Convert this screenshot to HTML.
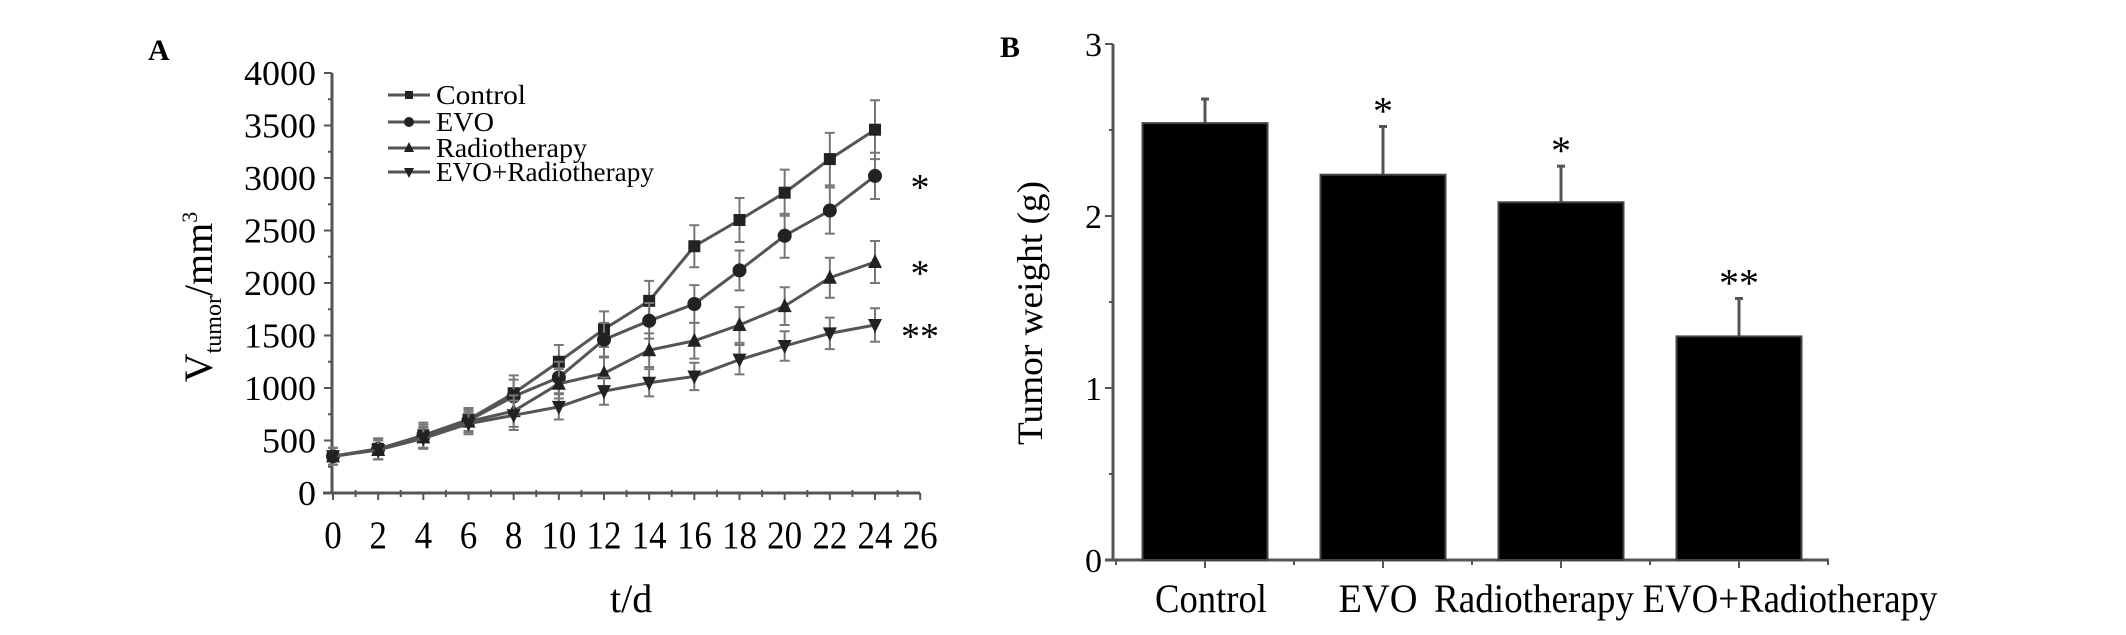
<!DOCTYPE html>
<html><head><meta charset="utf-8"><style>
html,body{margin:0;padding:0;background:#fff;}
svg{display:block;font-family:"Liberation Serif",serif;}
</style></head><body>
<svg id="fig" width="2126" height="635" viewBox="0 0 2126 635">
<g id="chartA"></g>
<g id="chartB"></g>
</svg>
<script>
// ---------- Chart A data ----------
const daysA = [0,2,4,6,8,10,12,14,16,18,20,22,24];
const seriesNames = ["Control","EVO","Radiotherapy","EVO+Radiotherapy"];
const controlVals = [350,420,550,700,950,1250,1560,1830,2350,2600,2860,3180,3460];
const evoVals = [350,420,540,690,920,1100,1460,1640,1800,2120,2450,2690,3020];
const radioVals = [350,410,530,680,780,1040,1140,1360,1450,1600,1780,2050,2200];
const comboVals = [350,410,520,660,740,820,970,1050,1110,1270,1400,1520,1600];
const controlErr = [80,100,120,110,170,160,170,190,200,210,220,250,280];
const evoErr = [80,100,110,110,160,150,160,170,180,190,210,220,220];
const radioErr = [80,90,100,100,150,140,150,160,170,170,180,190,200];
const comboErr = [80,90,100,100,140,120,130,130,130,140,140,150,160];
const xTicksA = [0,2,4,6,8,10,12,14,16,18,20,22,24,26];
const yTicksA = [0,500,1000,1500,2000,2500,3000,3500,4000];
const sigA = ["*","*","**"];
const sigValsA = [3020,2200,1600];

// ---------- Chart B data ----------
const groupsB = ["Control","EVO","Radiotherapy","EVO+Radiotherapy"];
const weightVals = [2.54,2.24,2.08,1.30];
const weightErr = [0.14,0.28,0.21,0.22];
const sigB = ["","*","*","**"];
const yTicksB = [0,1,2,3];

const NS = "http://www.w3.org/2000/svg";
function mk(parent, tag, attrs, text){
  const e = document.createElementNS(NS, tag);
  for (const k in attrs) e.setAttribute(k, attrs[k]);
  if (text !== undefined) e.textContent = text;
  parent.appendChild(e);
  return e;
}

// ================= Chart A =================
const A = document.getElementById('chartA');
const ax0 = 333, axPer = (875-333)/24, ay0 = 493, ayTop = 73;
const xA = d => ax0 + d*axPer;
const yA = v => ay0 - v*(ay0-ayTop)/4000;
const axisCol = "#555";

let t = mk(A,'text',{x:148,y:60,'font-size':30,'font-weight':'bold'},'A');



let l = mk(A,'line',{x1:xA(0)-1,y1:ay0,x2:xA(0)-1,y2:yA(4000),stroke:axisCol,'stroke-width':3});


l = mk(A,'line',{x1:xA(0)-10,y1:ay0,x2:xA(26),y2:ay0,stroke:axisCol,'stroke-width':3});


for (let d=0; d<=26; d++){
  const major = d%2===0;
  const tk = mk(A,'line',{x1:xA(d),y1:ay0-(major?0:3),x2:xA(d),y2:ay0+(major?7:4),stroke:axisCol,'stroke-width':2});
  
  
}
for (let v=0; v<=4000; v+=250){
  const major = v%500===0;
  const tk = mk(A,'line',{x1:xA(0)-1-(major?8:4),y1:yA(v),x2:xA(0)-1,y2:yA(v),stroke:axisCol,'stroke-width':2});
  
  
}
xTicksA.forEach(d=>{
  const s = String(d);
  const e = mk(A,'text',{x:xA(d),y:548,'font-size':39,'text-anchor':'middle',textLength:s.length*17.5,lengthAdjust:'spacingAndGlyphs'},s);
  
  
});
yTicksA.forEach(v=>{
  const s = String(v);
  const e = mk(A,'text',{x:316,y:yA(v)+12,'font-size':35,'text-anchor':'end',textLength:s.length*18,lengthAdjust:'spacingAndGlyphs'},s);
  
  
});
t = mk(A,'text',{x:xA(13.2),y:612,'font-size':40,'text-anchor':'middle'},'t/d');


t = mk(A,'text',{transform:'translate(212,297) rotate(-90)','font-size':40,'text-anchor':'middle'});


mk(t,'tspan',{},'V');
mk(t,'tspan',{'font-size':24,dy:9},'tumor');
mk(t,'tspan',{dy:-9},'/mm');
mk(t,'tspan',{'font-size':22,dy:-15},'3');

const allVals = [controlVals, evoVals, radioVals, comboVals];
const allErr = [controlErr, evoErr, radioErr, comboErr];
function marker(g, kind, cx, cy, s){
  let m;
  if (kind===0) m = mk(g,'rect',{x:cx-s,y:cy-s,width:2*s,height:2*s,fill:'#222'});
  else if (kind===1) m = mk(g,'circle',{cx:cx,cy:cy,r:s+1,fill:'#222'});
  else if (kind===2) m = mk(g,'polygon',{points:`${cx},${cy-s-2} ${cx-s-1},${cy+s} ${cx+s+1},${cy+s}`,fill:'#222'});
  else m = mk(g,'polygon',{points:`${cx},${cy+s+2} ${cx-s-1},${cy-s} ${cx+s+1},${cy-s}`,fill:'#222'});
  return m;
}
allVals.forEach((vals,si)=>{
  const g = mk(A,'g',{});
  
  
  const errs = allErr[si];
  vals.forEach((v,i)=>{
    const x = xA(daysA[i]);
    const eb = mk(g,'path',{d:`M${x},${yA(v-errs[i])}V${yA(v+errs[i])}M${x-5},${yA(v+errs[i])}h10M${x-5},${yA(v-errs[i])}h10`,stroke:'#777','stroke-width':2,fill:'none'});
    
    
  });
  const pts = vals.map((v,i)=>xA(daysA[i])+','+yA(v)).join(' ');
  const pl = mk(g,'polyline',{points:pts,fill:'none',stroke:'#555','stroke-width':3});
  
  
  vals.forEach((v,i)=>{
    const m = marker(g, si, xA(daysA[i]), yA(v), 6);
    
    
  });
});
const legY = [95,122,148,172];
const legW = [90,58,151,218];
seriesNames.forEach((n,i)=>{
  const g = mk(A,'g',{});
  
  
  mk(g,'line',{x1:388,y1:legY[i],x2:430,y2:legY[i],stroke:'#555','stroke-width':3});
  marker(g,i,409,legY[i],4);
  mk(g,'text',{x:436,y:legY[i]+9,'font-size':27,textLength:legW[i],lengthAdjust:'spacingAndGlyphs'},n);
});
sigA.forEach((s,i)=>{
  const e = mk(A,'text',{x:920,y:yA(sigValsA[i])+24,'font-size':38,'text-anchor':'middle'},s);
  
  
});

// ================= Chart B =================
const B = document.getElementById('chartB');
const bx0 = 1113, by0 = 560, byTop = 44;
const yB = v => by0 - v*(by0-byTop)/3;
const bStep = 178, bFirst = 1205, bW = 125;
const xB = i => bFirst + i*bStep;

t = mk(B,'text',{x:1000,y:57,'font-size':30,'font-weight':'bold'},'B');


l = mk(B,'line',{x1:bx0,y1:by0,x2:bx0,y2:yB(3),stroke:axisCol,'stroke-width':3});


l = mk(B,'line',{x1:bx0-8,y1:by0,x2:1829,y2:by0,stroke:axisCol,'stroke-width':3});


for (let v=0; v<=3; v+=0.5){
  const major = v%1===0;
  const tk = mk(B,'line',{x1:bx0-(major?8:4),y1:yB(v),x2:bx0,y2:yB(v),stroke:axisCol,'stroke-width':2});
  
  
}
for (let i=0;i<=4;i++){
  const tk = mk(B,'line',{x1:xB(i)-bStep/2,y1:by0,x2:xB(i)-bStep/2,y2:by0+5,stroke:axisCol,'stroke-width':2});
  
  
}
yTicksB.forEach(v=>{
  const e = mk(B,'text',{x:1102,y:yB(v)+12,'font-size':34,'text-anchor':'end'},String(v));
  
  
});
t = mk(B,'text',{transform:'translate(1042,313) rotate(-90)','font-size':36,'text-anchor':'middle',textLength:264,lengthAdjust:'spacingAndGlyphs'},'Tumor weight (g)');


const labelX = [1211,1378,1534,1790];
const labelW = [112,79,200,295];
weightVals.forEach((v,i)=>{
  const cx = xB(i);
  const tk = mk(B,'line',{x1:cx,y1:by0,x2:cx,y2:by0+8,stroke:axisCol,'stroke-width':2});
  
  
  const eb = mk(B,'path',{d:`M${cx},${yB(v)}V${yB(v+weightErr[i])}M${cx-4},${yB(v+weightErr[i])}h8`,stroke:'#555','stroke-width':3,fill:'none'});
  
  
  const r = mk(B,'rect',{x:cx-bW/2,y:yB(v),width:bW,height:by0-yB(v),fill:'#000',stroke:'#444','stroke-width':2});
  
  
  const lb = mk(B,'text',{x:labelX[i],y:612,'font-size':40,'text-anchor':'middle',textLength:labelW[i],lengthAdjust:'spacingAndGlyphs'},groupsB[i]);
  
  
  if (sigB[i]){
    const s = mk(B,'text',{x:cx,y:yB(v+weightErr[i])-2,'font-size':40,'text-anchor':'middle'},sigB[i]);
    
    
  }
});
</script>
</body></html>
